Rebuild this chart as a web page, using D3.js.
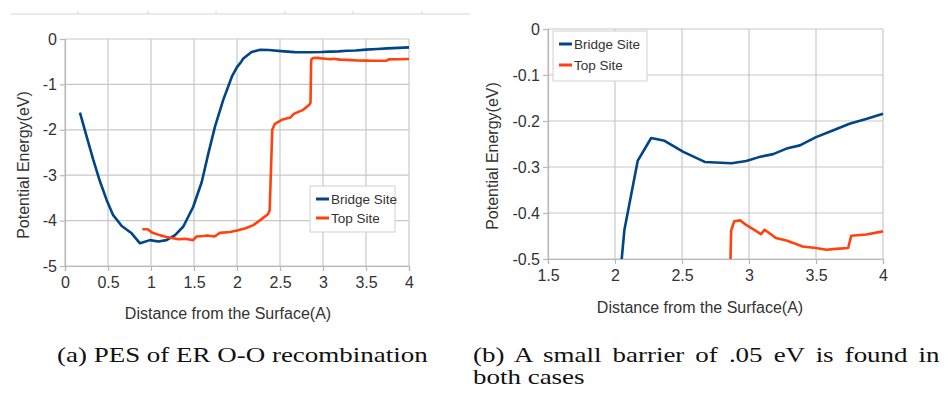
<!DOCTYPE html>
<html>
<head>
<meta charset="utf-8">
<script src="https://d3js.org/d3.v7.min.js"></script>
<style>
  body { margin: 0; background: #fff; }
  svg text { font-family: "Liberation Sans", Arial, sans-serif; fill: #333; }
  .cap { font-family: "Liberation Serif", "DejaVu Serif", serif; fill: #111; }
</style>
</head>
<body>
<script>
// distance from surface (A) and potential energy (eV)
const bridgeX = [0.174, 0.252, 0.33, 0.407, 0.485, 0.56, 0.66, 0.775, 0.872, 0.988, 1.085, 1.18, 1.28, 1.376, 1.49, 1.59,
  1.667, 1.744, 1.84, 1.94, 2.0, 2.05, 2.07, 2.17, 2.27, 2.37, 2.51, 2.67, 2.87, 2.98, 3.08, 3.18, 3.28, 3.38, 3.50,
  3.63, 3.75, 3.88, 4.00];
const bridgeY = [-1.62, -2.15, -2.67, -3.14, -3.55, -3.88, -4.12, -4.28, -4.50, -4.43, -4.46, -4.43, -4.32, -4.13, -3.70, -3.15,
  -2.52, -1.93, -1.34, -0.83, -0.62, -0.50, -0.437, -0.286, -0.237, -0.243, -0.267, -0.289, -0.292, -0.287, -0.278, -0.272,
  -0.260, -0.253, -0.235, -0.220, -0.206, -0.195, -0.184];

const topX = [0.90, 0.96, 1.01, 1.10, 1.18, 1.26, 1.32, 1.40, 1.49, 1.53, 1.61, 1.65, 1.74, 1.80, 1.92, 2.0, 2.10, 2.19, 2.27,
  2.36, 2.38, 2.41, 2.44, 2.52, 2.62, 2.66, 2.77, 2.84, 2.855, 2.862, 2.867, 2.89, 2.934, 2.979, 3.03, 3.09, 3.116, 3.153,
  3.20, 3.28, 3.33, 3.40, 3.50, 3.577, 3.65, 3.74, 3.763, 3.876, 4.00];
const topY = [-4.19, -4.19, -4.26, -4.32, -4.36, -4.39, -4.41, -4.40, -4.43, -4.35, -4.34, -4.33, -4.35, -4.27, -4.25, -4.22,
  -4.17, -4.10, -3.99, -3.86, -3.77, -2.00, -1.87, -1.78, -1.73, -1.65, -1.56, -1.45, -1.40, -0.50, -0.438, -0.418, -0.416,
  -0.426, -0.435, -0.446, -0.4365, -0.444, -0.4545, -0.46, -0.465, -0.473, -0.476, -0.480, -0.478, -0.476, -0.4495, -0.4466,
  -0.440];

const seriesNames = ['Bridge Site', 'Top Site'];
const seriesColors = ['#004586', '#ff420e'];

const xTicksA = [0, 0.5, 1, 1.5, 2, 2.5, 3, 3.5, 4];
const yTicksA = [0, -1, -2, -3, -4, -5];
const xTicksB = [1.5, 2, 2.5, 3, 3.5, 4];
const yTicksB = [0, -0.1, -0.2, -0.3, -0.4, -0.5];

const xTitle = 'Distance from the Surface(A)';
const yTitle = 'Potential Energy(eV)';
const captionA = '(a) PES of ER O-O recombination';
const captionB1 = '(b) A small barrier of .05 eV is found in';
const captionB2 = 'both cases';

const W = 947, H = 393;
const svg = d3.select('body').append('svg').attr('width', W).attr('height', H);

const series = [
  bridgeX.map((x, i) => [x, bridgeY[i]]),
  topX.map((x, i) => [x, topY[i]])
];

function chart(opt) {
  const x = d3.scaleLinear().domain(opt.xDomain).range([opt.left, opt.right]);
  const y = d3.scaleLinear().domain(opt.yDomain).range([opt.bottom, opt.top]);
  const g = svg.append('g');
  const clipId = 'clip' + opt.id;
  g.append('clipPath').attr('id', clipId).append('rect')
    .attr('x', opt.left).attr('y', opt.top - 2)
    .attr('width', opt.right - opt.left + 2).attr('height', opt.bottom - opt.top + 2);

  // grid
  g.append('g').selectAll('line').data(opt.xTicks).join('line')
    .attr('x1', d => x(d)).attr('x2', d => x(d))
    .attr('y1', opt.top).attr('y2', opt.bottom)
    .attr('stroke', '#c8c8c8').attr('stroke-width', 1.2);
  g.append('g').selectAll('line').data(opt.yTicks).join('line')
    .attr('x1', opt.left).attr('x2', opt.right)
    .attr('y1', d => y(d)).attr('y2', d => y(d))
    .attr('stroke', '#c8c8c8').attr('stroke-width', 1.2);

  const xa = g.append('g').attr('transform', `translate(0,${opt.bottom})`)
    .call(d3.axisBottom(x).tickValues(opt.xTicks).tickSize(5).tickPadding(6).tickFormat(d3.format('')));
  const ya = g.append('g').attr('transform', `translate(${opt.left},0)`)
    .call(d3.axisLeft(y).tickValues(opt.yTicks).tickSize(5).tickPadding(3));
  [xa, ya].forEach(a => {
    a.select('.domain').attr('stroke', '#b8b8b8').attr('stroke-width', 1.2);
    a.selectAll('.tick line').attr('stroke', '#b8b8b8').attr('stroke-width', 1.2);
    a.selectAll('.tick text').attr('font-size', 16).attr('fill', '#333')
      .style('font-family', '"Liberation Sans", Arial, sans-serif');
  });
  ya.selectAll('.tick text').text(d => String(d));

  const line = d3.line().x(d => x(d[0])).y(d => y(d[1]));
  g.append('g').attr('clip-path', `url(#${clipId})`).selectAll('path').data(series).join('path')
    .attr('d', line).attr('fill', 'none')
    .attr('stroke', (d, i) => seriesColors[i]).attr('stroke-width', 2.6)
    .attr('stroke-linejoin', 'round');

  g.append('text').attr('x', opt.xTitleX).attr('y', opt.xTitleY)
    .attr('text-anchor', 'middle').attr('font-size', 16).text(xTitle);
  g.append('text').attr('transform', `translate(${opt.yTitleX},${opt.yTitleY}) rotate(-90)`)
    .attr('text-anchor', 'middle').attr('font-size', 16).text(yTitle);

  const lg = g.append('g').attr('transform', `translate(${opt.legX},${opt.legY})`);
  lg.append('rect').attr('width', opt.legW).attr('height', opt.legH)
    .attr('fill', '#fff').attr('stroke', '#d0d0d0').attr('stroke-width', 1);
  seriesNames.forEach((n, i) => {
    const yy = 13 + i * opt.legGap;
    lg.append('line').attr('x1', 6).attr('x2', 19).attr('y1', yy).attr('y2', yy)
      .attr('stroke', seriesColors[i]).attr('stroke-width', 3);
    lg.append('text').attr('x', 21).attr('y', yy).attr('dy', '0.35em')
      .attr('font-size', 13.5).attr('fill', '#444').text(n);
  });
}

chart({
  id: 'a', xDomain: [0, 4], yDomain: [-5, 0], left: 65, right: 409, top: 39, bottom: 266,
  xTicks: xTicksA, yTicks: yTicksA, xTitleX: 228, xTitleY: 319, yTitleX: 29, yTitleY: 165,
  legX: 310, legY: 186, legW: 85, legH: 46, legGap: 19
});
chart({
  id: 'b', xDomain: [1.5, 4], yDomain: [-0.5, 0], left: 548, right: 883, top: 29, bottom: 259,
  xTicks: xTicksB, yTicks: yTicksB, xTitleX: 700, xTitleY: 313, yTitleX: 498, yTitleY: 156,
  legX: 553, legY: 31, legW: 94, legH: 50, legGap: 21
});

// faint page decoration above the left chart
const deco = svg.append('g').attr('stroke', '#d6d6d6');
deco.append('line').attr('x1', 11).attr('x2', 470).attr('y1', 14).attr('y2', 14).attr('stroke-width', 1.2);
[78, 148, 216, 285, 353, 422].forEach(px => deco.append('line')
  .attr('x1', px).attr('x2', px).attr('y1', 11).attr('y2', 14));

// captions (Computer Modern is not available: widen a serif so caption (a) has its width)
let sx = 1;
function cap(txt, x, yb, width, fit) {
  const g = svg.append('g');
  const t = g.append('text').attr('class', 'cap').attr('font-size', 21).text(txt);
  const w = t.node().getComputedTextLength();
  if (fit) sx = width / w;
  g.attr('transform', `translate(${x},${yb}) scale(${sx},1)`);
  const nsp = (txt.match(/ /g) || []).length;
  if (width && !fit && nsp) t.attr('word-spacing', Math.max(0, (width / sx - w) / nsp));
}
cap(captionA, 57, 362, 371, true);
cap(captionB1, 473, 362, 467, false);
cap(captionB2, 473, 384, null, false);
</script>
</body>
</html>
